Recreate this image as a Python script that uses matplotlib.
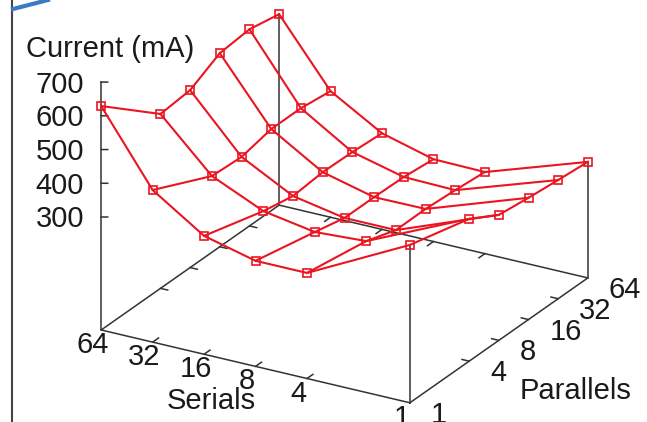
import numpy as np
import matplotlib
matplotlib.use("Agg")
import matplotlib.pyplot as plt
from matplotlib.lines import Line2D
from mpl_toolkits.mplot3d import proj3d

plt.rcParams['font.family'] = ['Liberation Sans', 'DejaVu Sans']

serials = [1, 4, 8, 16, 32, 64]
parallels = [1, 4, 8, 16, 32, 64]
current_ticks = [300, 400, 500, 600, 700]

# one row per serial count, columns follow parallels
current_s1 = [433, 387, 337, 326, 317, 309]
current_s4 = [278, 249, 220, 221, 215, 207]
current_s8 = [278, 240, 220, 220, 218, 209]
current_s16 = [316, 266, 249, 258, 256, 250]
current_s32 = [416, 334, 329, 350, 350, 339]
current_s64 = [629, 482, 491, 539, 548, 531]

W, H = 647, 422
RED = '#ea1520'
DARK = '#333333'
TEXT = '#1a1a1a'
FS = 21

fig = plt.figure(figsize=(W / 100, H / 100), dpi=100)
S = 555
ax = fig.add_axes([59.5 / W, -43 / H, S / W, S / H], projection='3d',
                  proj_type='ortho', computed_zorder=False)
ax.set_box_aspect((355, 357, 271.5))
ax.view_init(elev=24, azim=210.1)
ax.set_axis_off()

xv = np.log2(parallels)
yv = np.log2(serials)
z_low, z_top = -35, 700
ax.set_xlim(0, 6)
ax.set_ylim(0, 6)
ax.set_zlim(z_low, z_top)

grid = np.array([current_s1, current_s4, current_s8, current_s16, current_s32, current_s64])


def dark_line(xs, ys, zs):
    ax.plot(xs, ys, zs, color=DARK, lw=1.1, zorder=1)


# floor border
dark_line([0, 6, 6, 0, 0], [0, 0, 6, 6, 0], [z_low] * 5)
# verticals at the corners, up to the surface (the left one is the z axis)
dark_line([0, 0], [6, 6], [z_low, z_top])
dark_line([0, 0], [0, 0], [z_low, grid[0, 0]])
dark_line([6, 6], [0, 0], [z_low, grid[0, -1]])
dark_line([6, 6], [6, 6], [z_low, grid[-1, -1]])

# ticks, mirrored on the back edges
for v in yv[1:-1]:
    dark_line([0, 0.2], [v, v], [z_low, z_low])
    dark_line([6, 5.8], [v, v], [z_low, z_low])
for v in xv[1:-1]:
    dark_line([v, v], [0, 0.14], [z_low, z_low])
    dark_line([v, v], [6, 5.86], [z_low, z_low])
for t in current_ticks:
    # runs along the parallels axis, z lowered so it stays flat on screen
    dark_line([0, 0.22], [6, 6], [t, t - 13.6])

# surface
for y, row in zip(yv, grid):
    ax.plot(xv, np.full(6, y), row, color=RED, lw=1.5,
            marker='s', ms=6, mfc='none', mew=1.2, zorder=3)
for j in range(6):
    ax.plot(np.full(6, xv[j]), yv, grid[:, j], color=RED, lw=1.5, zorder=3)

proj = ax.get_proj()


def label(x, y, z, text, dx, dy, ha='center'):
    px, py, _ = proj3d.proj_transform(x, y, z, proj)
    ax.annotate(text, (px, py), xytext=(dx, dy), textcoords='offset pixels',
                ha=ha, va='center', fontsize=FS, color=TEXT, annotation_clip=False)


for t in current_ticks:
    label(0, 6, t, str(t), -17, -2.5, ha='right')
for s, v in zip(serials, yv):
    label(0, v, z_low, str(s), -8.5, -15)
for p, v in zip(parallels, xv):
    label(v, 0, z_low, str(p), 21, -12, ha='left')

fig.text(110 / W, 1 - 49 / H, 'Current (mA)', ha='center', va='center', fontsize=FS, color=TEXT)
fig.text(211 / W, 1 - 401 / H, 'Serials', ha='center', va='center', fontsize=FS, color=TEXT)
fig.text(576 / W, 1 - 391 / H, 'Parallels', ha='center', va='center', fontsize=FS, color=TEXT)

# page edge and blue stroke cropped in from the source page
fig.add_artist(Line2D([11.5 / W, 11.5 / W], [0, 1], color='#444444', lw=1.5))
fig.add_artist(Line2D([13 / W, 48 / W], [1 - 9 / H, 1], color='#3d7ac4', lw=3))

fig.savefig('out.png', dpi=100)
